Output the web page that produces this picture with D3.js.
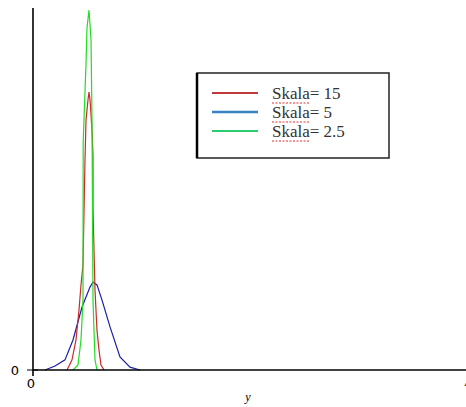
<!DOCTYPE html>
<html>
<head>
<meta charset="utf-8">
<script src="https://cdn.jsdelivr.net/npm/d3@7"></script>
<style>
  body { margin: 0; background: #fff; }
  svg { display: block; }
</style>
</head>
<body>
<script>
// chart size
var svgWidth = 466;
var svgHeight = 407;

// plot area (pixel edges)
var plot = { left: 33, right: 463, top: 8, bottom: 370 };

// data
var seriesNames = ["Skala= 15", "Skala= 5", "Skala= 2.5"];

var redX = [7.91, 9.07, 10.0, 10.70, 11.16, 11.63, 12.09, 12.33, 12.79, 13.02, 13.26, 13.72, 13.95, 13.96, 14.42, 14.88, 15.35, 15.81, 16.51];
var redY = [0, 0.028, 0.083, 0.166, 0.235, 0.290, 0.580, 0.691, 0.746, 0.768, 0.746, 0.663, 0.594, 0.442, 0.221, 0.110, 0.055, 0.014, 0];

var blueX = [2.79, 5.12, 7.44, 9.30, 11.40, 13.26, 13.95, 14.88, 16.05, 17.91, 20.23, 22.56, 24.88];
var blueY = [0, 0.011, 0.028, 0.083, 0.174, 0.229, 0.243, 0.235, 0.193, 0.119, 0.036, 0.008, 0];

var greenX = [9.30, 10.47, 11.16, 11.63, 11.67, 12.33, 12.56, 13.02, 13.26, 13.49, 13.72, 13.95, 14.42, 14.88];
var greenY = [0, 0.014, 0.083, 0.193, 0.627, 0.848, 0.945, 0.994, 0.953, 0.912, 0.691, 0.193, 0.028, 0];

var xTickLabels = ["0", "4"];
var yTickLabels = ["0"];

var curveColors = ["#cc2a2a", "#1c1ca8", "#22dd22"];
var legendColors = ["#c0393b", "#3b82c4", "#2ecc71"];

var svg = d3.select("body")
  .append("svg")
  .attr("width", svgWidth)
  .attr("height", svgHeight);

var xScale = d3.scaleLinear()
  .domain([0, 100])
  .range([plot.left, plot.right]);

var yScale = d3.scaleLinear()
  .domain([0, 1])
  .range([plot.bottom, plot.top]);

var line = d3.line()
  .x(d => xScale(d[0]))
  .y(d => yScale(d[1]));

var series = [
  d3.zip(redX, redY),
  d3.zip(blueX, blueY),
  d3.zip(greenX, greenY)
];

// draw blue first, then red, then green on top
[1, 0, 2].forEach(function(i) {
  svg.append("path")
    .datum(series[i])
    .attr("fill", "none")
    .attr("stroke", curveColors[i])
    .attr("stroke-width", 1.2)
    .attr("d", line);
});

// axes
svg.append("line")
  .attr("x1", xScale(0)).attr("x2", svgWidth)
  .attr("y1", yScale(0)).attr("y2", yScale(0))
  .attr("stroke", "#000").attr("stroke-width", 1.3);

svg.append("line")
  .attr("x1", xScale(0)).attr("x2", xScale(0))
  .attr("y1", plot.top).attr("y2", yScale(0) + 6)
  .attr("stroke", "#000").attr("stroke-width", 1.6);

// y tick
svg.append("line")
  .attr("x1", xScale(0) - 6).attr("x2", xScale(0) + 5)
  .attr("y1", yScale(0)).attr("y2", yScale(0))
  .attr("stroke", "#000").attr("stroke-width", 1);

svg.append("text")
  .attr("x", xScale(0) - 18)
  .attr("y", yScale(0) + 5)
  .attr("text-anchor", "middle")
  .style("font", "13px 'DejaVu Sans', sans-serif")
  .text(yTickLabels[0]);

// x tick labels
svg.append("text")
  .attr("x", xScale(0) - 2)
  .attr("y", yScale(0) + 18)
  .attr("text-anchor", "middle")
  .style("font", "13px 'DejaVu Sans', sans-serif")
  .text(xTickLabels[0]);

svg.append("text")
  .attr("x", xScale(100) + 1)
  .attr("y", yScale(0) + 18)
  .attr("text-anchor", "start")
  .attr("fill", "#555")
  .style("font", "13px 'DejaVu Sans', sans-serif")
  .text(xTickLabels[1]);

// x title
svg.append("text")
  .attr("x", 248)
  .attr("y", 401)
  .attr("text-anchor", "middle")
  .style("font", "italic 12px 'Liberation Serif', serif")
  .text("y");

// legend
var legend = svg.append("g");

legend.append("rect")
  .attr("x", 197).attr("y", 73)
  .attr("width", 192).attr("height", 85)
  .attr("fill", "#fff")
  .attr("stroke", "#222").attr("stroke-width", 1.5);

legend.append("line")
  .attr("x1", 197).attr("x2", 197)
  .attr("y1", 73).attr("y2", 158)
  .attr("stroke", "#000").attr("stroke-width", 2.5);

seriesNames.forEach(function(name, i) {
  var y = 93 + i * 19;
  legend.append("line")
    .attr("x1", 212).attr("x2", 258)
    .attr("y1", y).attr("y2", y)
    .attr("stroke", legendColors[i])
    .attr("stroke-width", i === 1 ? 2.5 : 2);

  legend.append("text")
    .attr("x", 272)
    .attr("y", y + 6)
    .attr("fill", "#333")
    .style("font", "17px 'Liberation Serif', serif")
    .text(name);

  // spell-check squiggle under "Skala"
  legend.append("line")
    .attr("x1", 272).attr("x2", 310)
    .attr("y1", y + 10).attr("y2", y + 10)
    .attr("stroke", "#e03030")
    .attr("stroke-width", 1)
    .attr("stroke-dasharray", "2,1.5");
});
</script>
</body>
</html>
